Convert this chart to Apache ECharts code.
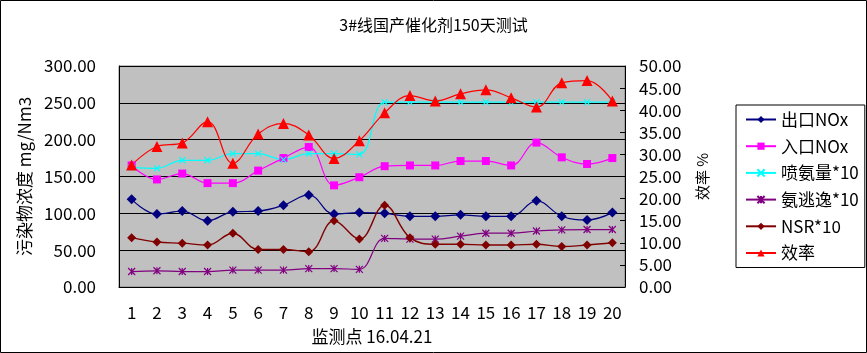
<!DOCTYPE html>
<html>
<head>
<meta charset="utf-8">
<script src="https://cdn.jsdelivr.net/npm/echarts@6/dist/echarts.min.js"></script>
<style>
  html, body { margin: 0; padding: 0; background: #fff; }
  #chart { width: 867px; height: 353px; }
</style>
</head>
<body>
<div id="chart"></div>
<script>
// 监测点
var points = ['1','2','3','4','5','6','7','8','9','10','11','12','13','14','15','16','17','18','19','20'];

// 左轴 mg/Nm3
var outNOx  = [119, 99, 103, 90, 102, 103, 111, 125, 99, 101, 100, 96, 96, 98, 96, 96, 117, 96, 91, 101];
var inNOx   = [165, 146, 154, 141, 141, 158, 175, 190, 138, 149, 164, 165, 165, 171, 171, 165, 196, 176, 167, 175];
var nh3x10  = [162, 161, 172, 172, 181, 181, 173, 181, 181, 180, 251, 251, 251, 251, 251, 251, 251, 251, 251, 251];
var slipx10 = [21, 22, 21, 21, 23, 23, 23, 25, 25, 24, 66, 65, 65, 69, 73, 73, 76, 77.5, 78, 78];
var nsrx10  = [67, 61, 59.5, 57, 73, 51, 51, 48, 90, 65, 111, 67, 58, 58, 57, 57, 58, 55, 57, 60];

// 右轴 %
var effic   = [27.6, 31.8, 32.6, 37.4, 28.0, 34.6, 37.0, 34.4, 29.1, 33.1, 39.4, 43.3, 42.1, 43.7, 44.6, 42.8, 40.7, 46.2, 46.7, 42.1];

var chart = echarts.init(document.getElementById('chart'));

var fam = '"Noto Sans CJK SC", "Noto Sans", sans-serif';
var crossSym = 'path://M0 0L10 10M10 0L0 10';
var starSym = 'path://M0 0L10 10M10 0L0 10M5 0L5 10';

function mkLine(name, data, color, symbol, size, yIdx, width, stroke) {
    var item = { color: color };
    if (stroke) {
        item.borderColor = color;
        item.borderWidth = 1.2;
    }
    return {
        name: name,
        type: 'line',
        yAxisIndex: yIdx,
        data: data,
        smooth: 0.4,
        symbol: symbol,
        symbolSize: size,
        showAllSymbol: true,
        lineStyle: { color: color, width: width },
        itemStyle: item
    };
}

var option = {
    animation: false,
    backgroundColor: '#fff',
    textStyle: { fontFamily: fam },
    title: {
        text: '3#线国产催化剂150天测试',
        left: 'center',
        top: 12,
        textStyle: { fontSize: 16, fontWeight: 'normal', color: '#000', fontFamily: fam }
    },
    legend: {
        orient: 'vertical',
        left: 736,
        top: 105,
        padding: [6, 6, 6, 9],
        itemWidth: 30,
        itemHeight: 9,
        itemGap: 9.7,
        borderColor: '#000',
        borderWidth: 1,
        textStyle: { fontSize: 17, color: '#000', lineHeight: 14, fontFamily: fam },
        data: ['出口NOx', '入口NOx', '喷氨量*10', '氨逃逸*10', 'NSR*10', '效率']
    },
    grid: {
        left: 119,
        right: 242,
        top: 66,
        bottom: 66,
        show: true,
        backgroundColor: '#C0C0C0',
        borderColor: '#808080',
        borderWidth: 1
    },
    xAxis: {
        type: 'category',
        data: points,
        boundaryGap: true,
        name: '监测点 16.04.21',
        nameLocation: 'middle',
        nameGap: 41,
        nameTextStyle: { fontSize: 17, color: '#000' },
        axisLine: { lineStyle: { color: '#000', width: 1 } },
        axisTick: { inside: true, length: 6, lineStyle: { color: '#000' } },
        axisLabel: { fontSize: 17, color: '#000', margin: 17, interval: 0 }
    },
    yAxis: [
        {
            type: 'value',
            min: 0,
            max: 300,
            interval: 50,
            name: '污染物浓度 mg/Nm3',
            nameLocation: 'middle',
            nameRotate: 90,
            nameGap: 84,
            nameTextStyle: { fontSize: 17, color: '#000' },
            axisLine: { show: true, lineStyle: { color: '#000' } },
            axisTick: { show: true, inside: true, length: 5, lineStyle: { color: '#000' } },
            splitLine: { show: true, lineStyle: { color: '#000', width: 1 } },
            axisLabel: {
                fontSize: 17, color: '#000', margin: 23,
                formatter: function (v) { return v.toFixed(2); }
            }
        },
        {
            type: 'value',
            position: 'right',
            min: 0,
            max: 50,
            interval: 5,
            name: '效率 %',
            nameLocation: 'middle',
            nameRotate: 90,
            nameGap: 70,
            nameTextStyle: { fontSize: 15, color: '#000' },
            axisLine: { show: true, lineStyle: { color: '#000' } },
            axisTick: { show: true, inside: true, length: 5, lineStyle: { color: '#000' } },
            splitLine: { show: false },
            axisLabel: {
                fontSize: 17, color: '#000', margin: 14,
                formatter: function (v) { return v.toFixed(2); }
            }
        }
    ],
    graphic: [
        {
            type: 'rect',
            silent: true,
            shape: { x: 0.5, y: 0.5, width: 866, height: 352 },
            style: { fill: 'none', stroke: '#000', lineWidth: 1 }
        }
    ],
    series: [
        mkLine('出口NOx', outNOx, '#000080', 'diamond', 10, 0, 1.2),
        mkLine('入口NOx', inNOx, '#FF00FF', 'rect', 8, 0, 1.2),
        mkLine('喷氨量*10', nh3x10, '#00FFFF', crossSym, 6, 0, 1.2, true),
        mkLine('氨逃逸*10', slipx10, '#800080', starSym, 7, 0, 1.2, true),
        mkLine('NSR*10', nsrx10, '#800000', 'diamond', 9, 0, 1.4),
        mkLine('效率', effic, '#FF0000', 'triangle', 11, 1, 1.2)
    ]
};

chart.setOption(option);
</script>
</body>
</html>
